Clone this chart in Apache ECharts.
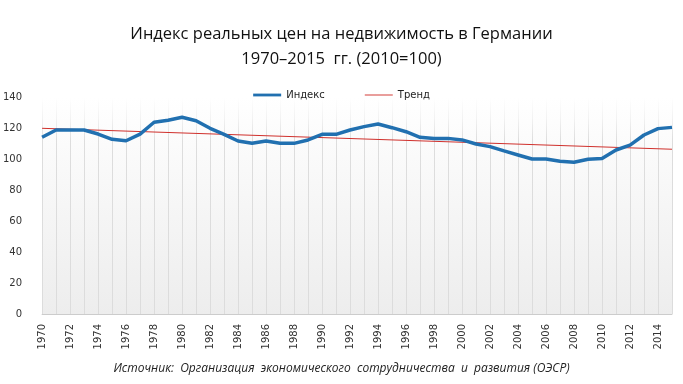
<!DOCTYPE html>
<html><head><meta charset="utf-8">
<script src="https://cdn.jsdelivr.net/npm/echarts@6/dist/echarts.min.js"></script>
<style>html,body{margin:0;padding:0;background:#fff}#c{width:683px;height:384px}</style>
</head><body><div id="c"></div>
<script>
const years = [];
for (let y = 1970; y <= 2015; y++) years.push(String(y));
const indexValues = [114.0,118.7,118.7,118.7,116.1,112.7,111.8,116.1,123.7,125.0,
  126.9,124.7,119.8,115.9,111.6,110.1,111.6,110.1,110.1,112.3,
  115.9,115.9,118.7,120.9,122.6,120.2,117.6,114.0,113.3,113.3,
  112.3,109.7,108.0,105.2,102.6,100.0,100.0,98.5,97.9,99.8,
  100.4,105.8,109.0,115.5,119.6,120.4];
const trendStart = 119.8;
const trendEnd = 106.3;
const yTicks = [0,20,40,60,80,100,120,140];

const trendData = years.map((y,i)=> i===0 ? trendStart : (i===years.length-1 ? trendEnd : null));

const chart = echarts.init(document.getElementById('c'), null, {renderer:'canvas'});
chart.setOption({
  animation:false,
  title:{
    text:'Индекс реальных цен на недвижимость в Германии\n1970–2015  гг. (2010=100)',
    left:'center', top:17,
    textStyle:{fontFamily:'Open Sans', fontSize:16.5, fontWeight:'normal', color:'#111', lineHeight:25}
  },
  legend:{
    top:85, left:'center', itemGap:40, itemWidth:28, itemHeight:10,
    textStyle:{fontFamily:'DejaVu Sans', fontSize:10, color:'#222'},
    data:[{name:'Индекс', icon:'path://M0,4 L30,4 L30,7 L0,7 Z'},{name:'Тренд', icon:'path://M0,5 L30,5 L30,6 L0,6 Z'}]
  },
  grid:{left:41, right:11, top:97, bottom:70, show:true, borderWidth:0,
    backgroundColor:{type:'linear',x:0,y:0,x2:0,y2:1,colorStops:[{offset:0,color:'#ffffff'},{offset:1,color:'#ededed'}]}},
  xAxis:{
    type:'category', data:years, boundaryGap:false,
    axisLine:{lineStyle:{color:'#cccccc'}},
    axisTick:{show:false},
    axisLabel:{interval:1, rotate:90, fontFamily:'DejaVu Sans', fontSize:10, color:'#333', margin:10},
    splitLine:{show:true, interval:0, lineStyle:{width:1,
      color:{type:'linear', global:true, x:0, y:97, x2:0, y2:314,
        colorStops:[{offset:0,color:'#ffffff'},{offset:0.1,color:'#f2f2f2'},{offset:0.2,color:'#dddddd'},{offset:1,color:'#dcdcdc'}]}}}
  },
  yAxis:{
    type:'value', min:0, max:140, interval:20,
    axisLine:{show:false}, axisTick:{show:false},
    axisLabel:{fontFamily:'DejaVu Sans', fontSize:10, color:'#333', margin:20},
    splitLine:{show:false}
  },
  series:[
    {name:'Индекс', type:'line', data:indexValues, symbol:'none', smooth:false,
      lineStyle:{color:'#2170b0', width:3.5}, itemStyle:{color:'#2170b0'}, z:3},
    {name:'Тренд', type:'line', data:trendData, connectNulls:true, symbol:'none',
      lineStyle:{color:'#d0302c', width:1}, itemStyle:{color:'#d0302c'}, z:2}
  ],
  graphic:[{type:'text', left:'center', top:363,
    style:{text:'Источник:  Организация  экономического  сотрудничества  и  развития (ОЭСР)',
      font:'italic 12px "Open Sans"', fill:'#222'}}]
});
</script></body></html>
